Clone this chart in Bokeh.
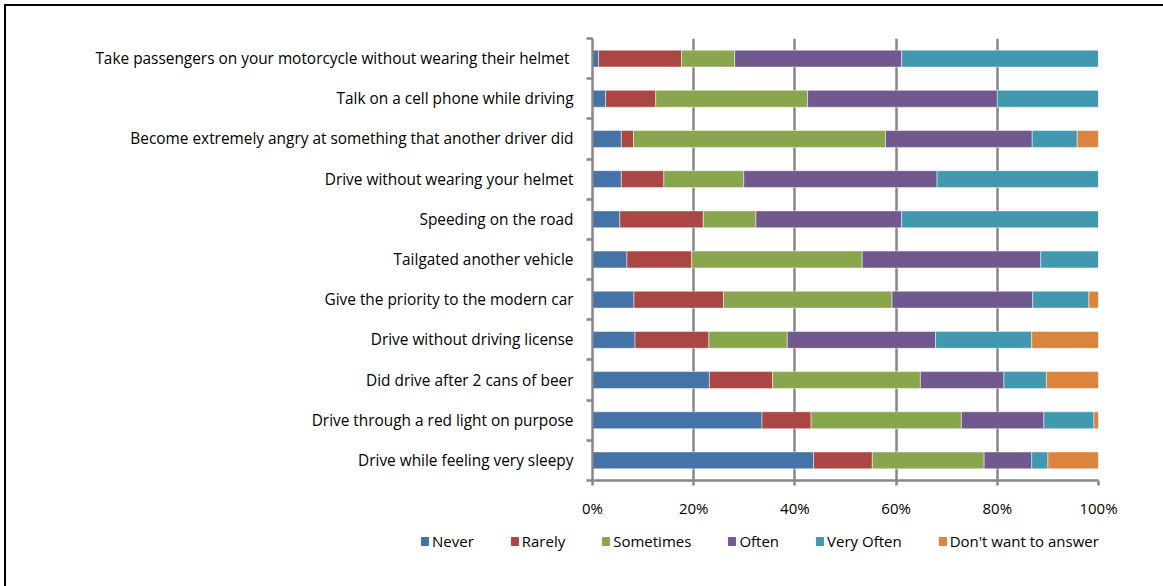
from bokeh.plotting import figure
from bokeh.layouts import column
from bokeh.models import (ColumnDataSource, Range1d, FixedTicker, PrintfTickFormatter,
                          Legend, LegendItem)
from bokeh.embed import file_html
from bokeh.resources import INLINE

categories = [
    "Take passengers on your motorcycle without  wearing their helmet",
    "Talk on a cell phone while driving",
    "Become extremely angry at something that another driver did",
    "Drive without wearing your helmet",
    "Speeding on the road",
    "Tailgated another vehicle",
    "Give the priority to the modern car",
    "Drive without driving license",
    "Did drive after 2 cans of beer",
    "Drive through a red light on purpose",
    "Drive while feeling very sleepy",
]
series_names = ["Never", "Rarely", "Sometimes", "Often", "Very Often", "Don't want to answer"]
never = [1.2, 2.6, 5.7, 5.7, 5.4, 6.8, 8.2, 8.4, 23.1, 33.5, 43.7]
rarely = [16.4, 9.9, 2.4, 8.4, 16.5, 12.8, 17.7, 14.6, 12.5, 9.7, 11.6]
sometimes = [10.5, 30.0, 49.8, 15.8, 10.4, 33.7, 33.3, 15.5, 29.2, 29.7, 22.1]
often = [33.0, 37.5, 29.0, 38.2, 28.8, 35.3, 27.8, 29.3, 16.5, 16.3, 9.4]
very_often = [38.9, 20.0, 8.9, 31.9, 38.9, 11.4, 11.1, 19.0, 8.4, 9.9, 3.2]
dont_know = [0.0, 0.0, 4.2, 0.0, 0.0, 0.0, 1.9, 13.2, 10.3, 0.9, 10.0]
x_ticks = [0, 20, 40, 60, 80, 100]

colors = ["#4572A7", "#AA4643", "#89A54E", "#71588F", "#4198AF", "#DB843D"]
FONT = "Open Sans"
FS = "15px"
GRAY = "#878787"

n = len(categories)
ypos = [n - i - 0.5 for i in range(n)]
bounds = list(range(n + 1))

source = ColumnDataSource(dict(
    y=ypos, never=never, rarely=rarely, sometimes=sometimes,
    often=often, very_often=very_often, dont_know=dont_know,
))
keys = ["never", "rarely", "sometimes", "often", "very_often", "dont_know"]

# main chart (layout sits inside a 4px margin + 2px top/left border)
p = figure(width=1157, height=524, output_backend="svg", toolbar_location=None,
           x_range=Range1d(0, 100), y_range=Range1d(0, n),
           min_border_left=586, min_border_right=65, min_border_top=32,
           min_border_bottom=50, frame_align=False)
p.outline_line_color = None
p.background_fill_color = "white"
p.border_fill_color = "white"

renderers = p.hbar_stack(keys, y="y", height=0.42, source=source, color=colors,
                         line_color="white", line_width=0.8, line_alpha=0.6)

# x axis
xa = p.xaxis[0]
xa.ticker = FixedTicker(ticks=x_ticks)
xa.formatter = PrintfTickFormatter(format="%d%%")
xa.axis_line_color = GRAY
xa.axis_line_width = 2.5
xa.major_tick_line_color = GRAY
xa.major_tick_line_width = 2.5
xa.major_tick_out = 5
xa.major_tick_in = 0
xa.minor_tick_line_color = None
xa.major_label_text_font = FONT
xa.major_label_text_font_size = FS
xa.major_label_text_color = "black"
xa.major_label_standoff = 12

# y axis
ya = p.yaxis[0]
ya.ticker = FixedTicker(ticks=ypos, minor_ticks=bounds)
ya.major_label_overrides = {yv: c for yv, c in zip(ypos, categories)}
ya.axis_line_color = GRAY
ya.axis_line_width = 2.5
ya.major_tick_line_color = None
ya.major_tick_out = 0
ya.major_tick_in = 0
ya.minor_tick_line_color = GRAY
ya.minor_tick_line_width = 2.5
ya.minor_tick_out = 6
ya.minor_tick_in = 0
ya.major_label_text_font = FONT
ya.major_label_text_font_size = "15.4px"
ya.major_label_text_color = "black"
ya.major_label_standoff = 13

p.xgrid.ticker = FixedTicker(ticks=x_ticks)
p.xgrid.grid_line_color = GRAY
p.xgrid.grid_line_width = 2.5
p.ygrid.grid_line_color = None

# legend strip below the chart
leg = figure(width=1157, height=56, output_backend="svg", toolbar_location=None,
             x_axis_location=None, y_axis_location=None, min_border=0,
             x_range=Range1d(0, 1), y_range=Range1d(0, 1), frame_align=False)
leg.outline_line_color = None
leg.grid.grid_line_color = None
leg.background_fill_color = "white"
leg.border_fill_color = "white"
leg_renderers = [leg.hbar(y=[-10], right=[0.5], height=0.5, color=c) for c in colors]

legend = Legend(items=[LegendItem(label=nm, renderers=[r]) for nm, r in zip(series_names, leg_renderers)],
                orientation="horizontal", location=(414, 35),
                glyph_width=9, glyph_height=10, label_standoff=3, spacing=36,
                padding=0, margin=0, border_line_color=None, background_fill_alpha=0,
                label_text_font=FONT, label_text_font_size=FS, label_text_color="black",
                label_height=20)
leg.add_layout(legend, "center")

layout = column(p, leg, spacing=0, margin=(4, 0, 0, 4),
                styles={"border-top": "2px solid black", "border-left": "2px solid black"})

open("out.html", "w").write(file_html(layout, INLINE))
